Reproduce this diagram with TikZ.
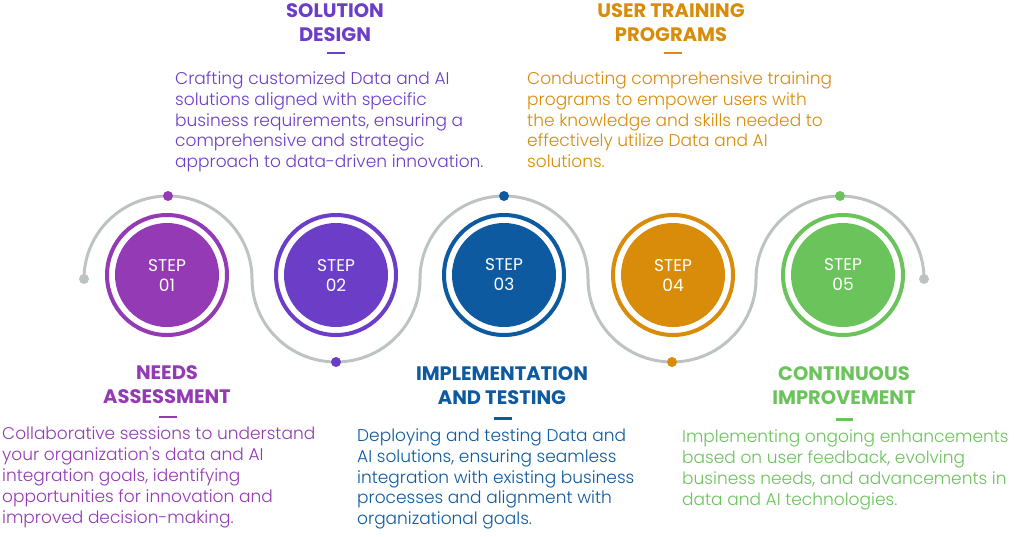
\documentclass[tikz,border=0pt]{standalone}
\usepackage{fontspec}
\setmainfont{Poppins}
\newfontfamily\bodyfont{Poppins Light}
\usetikzlibrary{positioning}

\definecolor{stepone}{RGB}{148,58,181}
\definecolor{steptwo}{RGB}{108,62,200}
\definecolor{stepthree}{RGB}{14,90,160}
\definecolor{stepfour}{RGB}{217,139,10}
\definecolor{stepfive}{RGB}{107,195,91}
\definecolor{wavegrey}{RGB}{189,195,195}

\begin{document}
\begin{tikzpicture}[x=1pt,y=-1pt,inner sep=0pt]
    \tikzset{ring/.style={circle,draw=#1,line width=4pt,minimum size=120pt},
             disc/.style={circle,fill=#1,minimum size=104pt,text=white,align=center,font=\fontsize{17}{20}\selectfont},
             stepdot/.style={circle,fill=#1,minimum size=10pt},
             headline/.style={anchor=north,align=center,text=#1,font=\fontsize{19.5}{24}\selectfont\bfseries},
             body/.style={anchor=north west,align=left,text=#1,font=\fontsize{17}{20.8}\bodyfont},
             rulebar/.style={draw=#1,line width=2.5pt},
             wave/.style={draw=wavegrey,line width=3pt}}
    \useasboundingbox (0,0) rectangle (1024,536);

    % grey wave behind the steps
    \coordinate (W0) at (84,279);
    \path[wave] (W0) arc[start angle=180,end angle=360,x radius=84,y radius=83]
        arc[start angle=180,end angle=0,x radius=84,y radius=83]
        arc[start angle=180,end angle=360,x radius=84,y radius=83]
        arc[start angle=180,end angle=0,x radius=84,y radius=83]
        arc[start angle=180,end angle=360,x radius=84,y radius=83] coordinate (W6);
    \node[stepdot=wavegrey] (E0) at (W0) {};
    \node[stepdot=wavegrey] (E6) at (W6) {};
    \node[stepdot=stepone] (D1) at (168,196) {};
    \node[stepdot=steptwo] (D2) at (336,362) {};
    \node[stepdot=stepthree] (D3) at (504,196) {};
    \node[stepdot=stepfour] (D4) at (672,362) {};
    \node[stepdot=stepfive] (D5) at (840,196) {};

    % steps
    \node[ring=stepone] (R1) at (167,275) {};
    \node[ring=steptwo] (R2) at (336,275) {};
    \node[ring=stepthree] (R3) at (504,275) {};
    \node[ring=stepfour] (R4) at (673,275) {};
    \node[ring=stepfive] (R5) at (843,275) {};
    \node[disc=stepone] (S1) at (R1) {STEP\\01};
    \node[disc=steptwo] (S2) at (R2) {STEP\\02};
    \node[disc=stepthree] (S3) at (R3) {STEP\\03};
    \node[disc=stepfour] (S4) at (R4) {STEP\\04};
    \node[disc=stepfive] (S5) at (R5) {STEP\\05};

    % titles
    \node[headline=stepone] (T1) at (167,365) {NEEDS\\ASSESSMENT};
    \node[headline=steptwo] (T2) at (335,3.5) {SOLUTION\\DESIGN};
    \node[headline=stepthree] (T3) at (502,366) {IMPLEMENTATION\\AND TESTING};
    \node[headline=stepfour] (T4) at (671,3.5) {USER TRAINING\\PROGRAMS};
    \node[headline=stepfive] (T5) at (844,366) {CONTINUOUS\\IMPROVEMENT};
    \draw[rulebar=stepone] (159,417) -- (177,417);
    \draw[rulebar=steptwo] (327,53) -- (345,53);
    \draw[rulebar=stepthree] (494,418.5) -- (512,418.5);
    \draw[rulebar=stepfour] (664,53) -- (682,53);
    \draw[rulebar=stepfive] (836,419.5) -- (853,419.5);

    % descriptions
    \node[body=stepone] (B1) at (2,427) {Collaborative sessions to understand\\your organization's data and AI\\integration goals, identifying\\opportunities for innovation and\\improved decision-making.};
    \node[body=steptwo] (B2) at (175,71.5) {Crafting customized Data and AI\\solutions aligned with specific\\business requirements, ensuring a\\comprehensive and strategic\\approach to data-driven innovation.};
    \node[body=stepthree] (B3) at (357,428.5) {Deploying and testing Data and\\AI solutions, ensuring seamless\\integration with existing business\\processes and alignment with\\organizational goals.};
    \node[body=stepfour] (B4) at (527,71.5) {Conducting comprehensive training\\programs to empower users with\\the knowledge and skills needed to\\effectively utilize Data and AI\\solutions.};
    \node[body=stepfive] (B5) at (682,430) {Implementing ongoing enhancements\\based on user feedback, evolving\\business needs, and advancements in\\data and AI technologies.};
\end{tikzpicture}
\end{document}
